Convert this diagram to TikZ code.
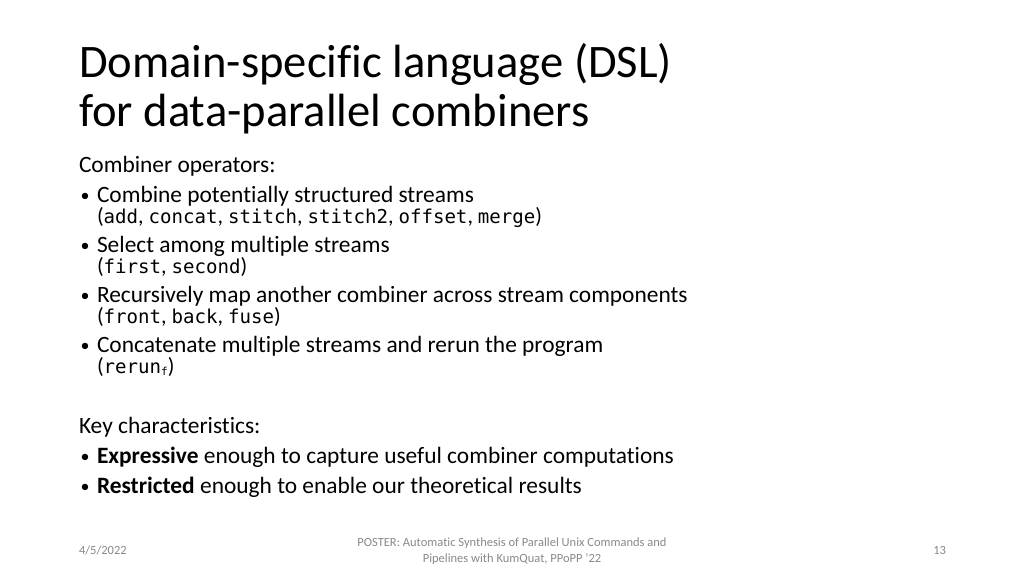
\documentclass[tikz,border=0pt]{standalone}
\usepackage{fontspec}
\setmainfont{Carlito}[Ligatures=CommonOff]
\newfontfamily\codefont{DejaVu Sans Mono}
\definecolor{footgray}{HTML}{898989}
\definecolor{bodytext}{HTML}{000000}
\begin{document}
\begin{tikzpicture}[x=1pt,y=-1pt,
  txt/.style={anchor=base west,inner sep=0pt,outer sep=0pt,text=bodytext},
  title/.style={txt,font=\fontsize{46.6}{46.6}\selectfont},
  body/.style={txt,font=\fontsize{23.4}{23.4}\selectfont},
  sub/.style={txt,font=\fontsize{22}{22}\selectfont},
  bul/.style={txt,font=\fontsize{18}{18}\selectfont},
  foot/.style={inner sep=0pt,outer sep=0pt,text=footgray,font=\fontsize{12.5}{12.5}\selectfont}]
\newcommand{\cd}[1]{{\codefont\fontsize{19.1}{19.1}\selectfont #1}}
\fill[white] (0,0) rectangle (1024,576);
\useasboundingbox (0,0) rectangle (1024,576);

\node[title] (t1) at (79,77) {Domain-specific language (DSL)};
\node[title] (t2) at (79,126) {for data-parallel combiners};

\node[body] (h1) at (79,172) {Combiner operators:};
\node[bul] (b1d) at (80.5,201) {•};
\node[body] (b1) at (97,202) {Combine potentially structured streams};
\node[sub] (b1s) at (97,223) {(\cd{add}, \cd{concat}, \cd{stitch}, \cd{stitch2}, \cd{offset}, \cd{merge})};
\node[bul] (b2d) at (80.5,251) {•};
\node[body] (b2) at (97,252) {Select among multiple streams};
\node[sub] (b2s) at (97,273) {(\cd{first}, \cd{second})};
\node[bul] (b3d) at (80.5,301) {•};
\node[body] (b3) at (97,302) {Recursively map another combiner across stream components};
\node[sub] (b3s) at (97,323) {(\cd{front}, \cd{back}, \cd{fuse})};
\node[bul] (b4d) at (80.5,351) {•};
\node[body] (b4) at (97,352) {Concatenate multiple streams and rerun the program};
\node[sub] (b4s) at (97,373) {(\cd{rerun}{\codefont\fontsize{11}{11}\selectfont\raisebox{-2.5pt}{f}})};

\node[body] (h2) at (79,433) {Key characteristics:};
\node[bul] (k1d) at (80.5,462) {•};
\node[body] (k1) at (97,463) {\textbf{Expressive} enough to capture useful combiner computations};
\node[bul] (k2d) at (80.5,492) {•};
\node[body] (k2) at (97,493) {\textbf{Restricted} enough to enable our theoretical results};

\node[foot,anchor=base west] (date) at (79,554) {4/5/2022};
\node[foot,anchor=base] (f1) at (512,546) {POSTER: Automatic Synthesis of Parallel Unix Commands and};
\node[foot,anchor=base] (f2) at (512,562) {Pipelines with KumQuat, PPoPP '22};
\node[foot,anchor=base east] (pg) at (946,554) {13};
\end{tikzpicture}
\end{document}
